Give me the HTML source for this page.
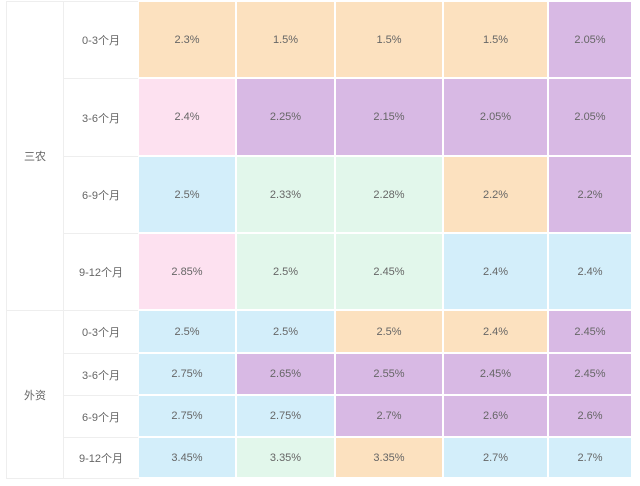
<!DOCTYPE html>
<html><head><meta charset="utf-8"><style>
body{margin:0;width:640px;height:486px;background:#fff;position:relative;overflow:hidden;font-family:"Liberation Sans","Noto Sans CJK SC",sans-serif;font-size:11px;color:#555}
.c{position:absolute;display:flex;align-items:center;justify-content:center;box-sizing:border-box}
.l{border:1px solid #eee;background:#fff;color:#666}
.d{border:1px solid #fff;color:#666}
.o{background:#fce1bf}.p{background:#d8b9e4}.k{background:#fde1f0}.b{background:#d3eefa}.g{background:#e2f7eb}
</style></head><body>
<div id="t"></div>
<script>
var cols=[138,236,335,443,548,632];
var rows=[1,78,156,233,310,353,395,437,478];
var per=["0-3个月","3-6个月","6-9个月","9-12个月"];
var data=[
[["2.3%","o"],["1.5%","o"],["1.5%","o"],["1.5%","o"],["2.05%","p"]],
[["2.4%","k"],["2.25%","p"],["2.15%","p"],["2.05%","p"],["2.05%","p"]],
[["2.5%","b"],["2.33%","g"],["2.28%","g"],["2.2%","o"],["2.2%","p"]],
[["2.85%","k"],["2.5%","g"],["2.45%","g"],["2.4%","b"],["2.4%","b"]],
[["2.5%","b"],["2.5%","b"],["2.5%","o"],["2.4%","o"],["2.45%","p"]],
[["2.75%","b"],["2.65%","p"],["2.55%","p"],["2.45%","p"],["2.45%","p"]],
[["2.75%","b"],["2.75%","b"],["2.7%","p"],["2.6%","p"],["2.6%","p"]],
[["3.45%","b"],["3.35%","g"],["3.35%","o"],["2.7%","b"],["2.7%","b"]]];
var h="";
function cell(x,y,w,hh,cls,txt){h+='<div class="c '+cls+'" style="left:'+x+'px;top:'+y+'px;width:'+w+'px;height:'+hh+'px">'+txt+'</div>';}
cell(6,rows[0],58,rows[4]-rows[0]+1,"l","三农");
cell(6,rows[4],58,rows[8]-rows[4]+1,"l","外资");
for(var r=0;r<8;r++){
 cell(63,rows[r],76,rows[r+1]-rows[r]+1,"l",per[r%4]);
 for(var c=0;c<5;c++){cell(cols[c],rows[r],cols[c+1]-cols[c],rows[r+1]-rows[r],"d "+data[r][c][1],data[r][c][0]);}
}
document.getElementById("t").innerHTML=h;
</script>
</body></html>
